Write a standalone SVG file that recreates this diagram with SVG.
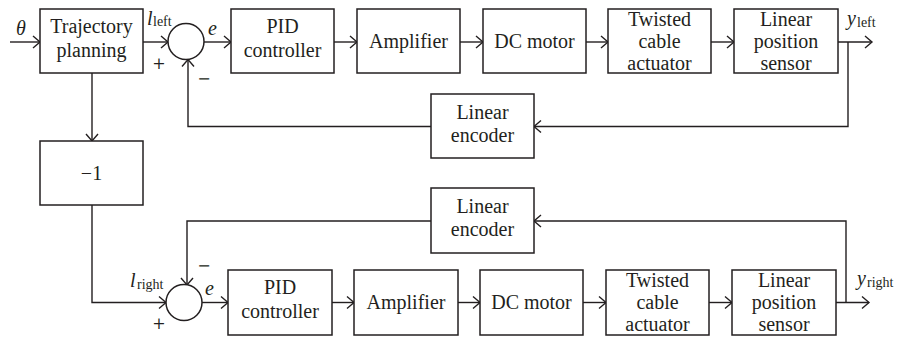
<svg xmlns="http://www.w3.org/2000/svg" width="901" height="338" viewBox="0 0 901 338">
  <style>
    .box { fill: #fff; stroke: #231f20; stroke-width: 1.5; }
    .sum { fill: #fff; stroke: #231f20; stroke-width: 1.5; }
    .wire { fill: none; stroke: #231f20; stroke-width: 1.4; }
    .arr { marker-end: url(#head); }
    text { font-family: "Liberation Serif", "DejaVu Serif", serif; fill: #231f20; }
    .lbl { font-size: 20px; text-anchor: middle; }
    .it { font-style: italic; font-size: 20px; }
    .sub { font-size: 14px; }
    .sign { font-family: "DejaVu Serif", serif; font-size: 16px; text-anchor: middle; }
  </style>
  <defs>
    <marker id="head" markerUnits="userSpaceOnUse" markerWidth="12" markerHeight="16" viewBox="-9 -8 10 16" refX="0" refY="0" orient="auto">
      <path d="M-7,-6 L0,0 L-7,6" fill="none" stroke="#231f20" stroke-width="1.4"/>
    </marker>
  </defs>

  <!-- connectors -->
  <g id="connectors">
    <!-- upper loop -->
    <path class="wire arr" d="M10,42 H40"/>
    <path class="wire arr" d="M143,42 H168"/>
    <path class="wire arr" d="M204,42 H231"/>
    <path class="wire arr" d="M334,42 H357"/>
    <path class="wire arr" d="M460,42 H483"/>
    <path class="wire arr" d="M586,42 H608"/>
    <path class="wire arr" d="M711,42 H734"/>
    <path class="wire arr" d="M838,42 H872"/>
    <path class="wire arr" d="M848,42 V126.5 H534"/>
    <path class="wire arr" d="M431,126.5 H188 V59.5"/>
    <path class="wire arr" d="M92,73 V141"/>
    <!-- lower loop -->
    <path class="wire arr" d="M92,205 V302.5 H166"/>
    <path class="wire arr" d="M202,302.5 H228"/>
    <path class="wire arr" d="M332,302.5 H354"/>
    <path class="wire arr" d="M458,302.5 H480"/>
    <path class="wire arr" d="M583,302.5 H606"/>
    <path class="wire arr" d="M709,302.5 H732"/>
    <path class="wire arr" d="M836,302.5 H869"/>
    <path class="wire arr" d="M846,302.5 V221 H534"/>
    <path class="wire arr" d="M431,221 H187 V285"/>
  </g>

  <!-- upper loop blocks -->
  <g id="traj">
    <rect class="box" x="40" y="9" width="103" height="64"/>
    <text class="lbl" x="91.5" y="33">Trajectory</text>
    <text class="lbl" x="91.5" y="57">planning</text>
  </g>
  <g id="sum-left">
    <circle class="sum" cx="186" cy="41.5" r="18"/>
  </g>
  <g id="pid-left">
    <rect class="box" x="231" y="9" width="103" height="64"/>
    <text class="lbl" x="282.5" y="33">PID</text>
    <text class="lbl" x="282.5" y="57">controller</text>
  </g>
  <g id="amp-left">
    <rect class="box" x="357" y="9" width="103" height="64"/>
    <text class="lbl" x="408.5" y="48">Amplifier</text>
  </g>
  <g id="motor-left">
    <rect class="box" x="483" y="9" width="103" height="64"/>
    <text class="lbl" x="534.5" y="48">DC motor</text>
  </g>
  <g id="actuator-left">
    <rect class="box" x="608" y="9" width="103" height="64"/>
    <text class="lbl" x="659.5" y="26">Twisted</text>
    <text class="lbl" x="659.5" y="48">cable</text>
    <text class="lbl" x="659.5" y="69.5">actuator</text>
  </g>
  <g id="sensor-left">
    <rect class="box" x="734" y="9" width="104" height="64"/>
    <text class="lbl" x="786" y="26">Linear</text>
    <text class="lbl" x="786" y="48">position</text>
    <text class="lbl" x="786" y="69.5">sensor</text>
  </g>
  <g id="encoder-left">
    <rect class="box" x="431" y="94" width="103" height="64"/>
    <text class="lbl" x="482.5" y="118.5">Linear</text>
    <text class="lbl" x="482.5" y="141.5">encoder</text>
  </g>
  <g id="invert">
    <rect class="box" x="40" y="141" width="103" height="64"/>
    <text class="lbl" x="91.5" y="180">−1</text>
  </g>

  <!-- lower loop blocks -->
  <g id="sum-right">
    <circle class="sum" cx="184" cy="302.5" r="18"/>
  </g>
  <g id="pid-right">
    <rect class="box" x="228" y="270" width="104" height="65"/>
    <text class="lbl" x="280" y="294">PID</text>
    <text class="lbl" x="280" y="318">controller</text>
  </g>
  <g id="amp-right">
    <rect class="box" x="354" y="270" width="104" height="65"/>
    <text class="lbl" x="406" y="309">Amplifier</text>
  </g>
  <g id="motor-right">
    <rect class="box" x="480" y="270" width="103" height="65"/>
    <text class="lbl" x="531.5" y="309">DC motor</text>
  </g>
  <g id="actuator-right">
    <rect class="box" x="606" y="270" width="103" height="65"/>
    <text class="lbl" x="657.5" y="287">Twisted</text>
    <text class="lbl" x="657.5" y="309">cable</text>
    <text class="lbl" x="657.5" y="331">actuator</text>
  </g>
  <g id="sensor-right">
    <rect class="box" x="732" y="270" width="104" height="65"/>
    <text class="lbl" x="784" y="287">Linear</text>
    <text class="lbl" x="784" y="309">position</text>
    <text class="lbl" x="784" y="331">sensor</text>
  </g>
  <g id="encoder-right">
    <rect class="box" x="431" y="188" width="103" height="65"/>
    <text class="lbl" x="482.5" y="212.5">Linear</text>
    <text class="lbl" x="482.5" y="235.5">encoder</text>
  </g>

  <!-- signal labels -->
  <g id="labels">
    <text class="it" x="16" y="35">θ</text>
    <text class="it" x="147" y="25">l</text>
    <text class="sub" x="153" y="26">left</text>
    <text class="sign" x="159" y="69">+</text>
    <text class="sign" x="204" y="84">−</text>
    <text class="it" x="208" y="35">e</text>
    <text class="it" x="847" y="25">y</text>
    <text class="sub" x="857" y="27">left</text>

    <text class="it" x="130" y="287">l</text>
    <text class="sub" x="137" y="289">right</text>
    <text class="sign" x="159" y="329">+</text>
    <text class="sign" x="204" y="271">−</text>
    <text class="it" x="205" y="295">e</text>
    <text class="it" x="857" y="285">y</text>
    <text class="sub" x="867" y="287">right</text>
  </g>
</svg>
